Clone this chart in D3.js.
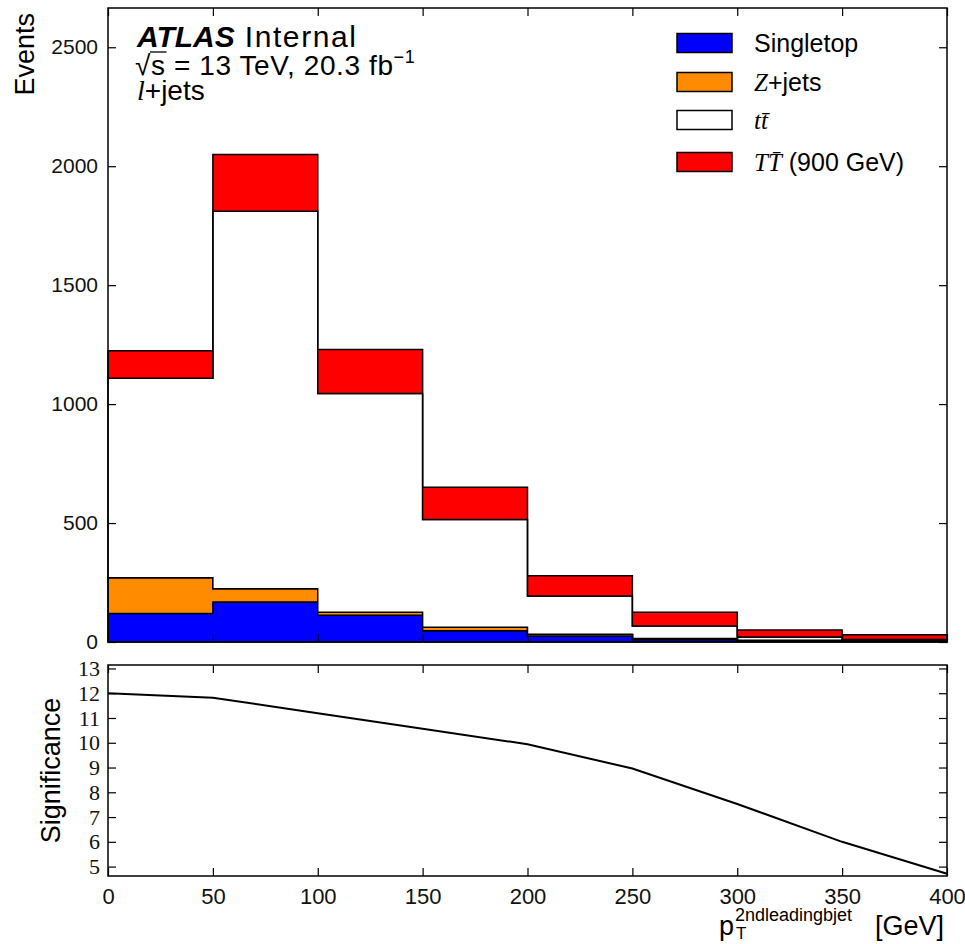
<!DOCTYPE html>
<html><head><meta charset="utf-8">
<script src="https://cdn.jsdelivr.net/npm/d3@7/dist/d3.min.js"></script>
<style>
html,body{margin:0;padding:0;background:#fff;}
svg{display:block;}
</style></head>
<body>
<svg id="c" width="965" height="944"></svg>
<script>
// ---- data ----
const binEdges   = [0, 50, 100, 150, 200, 250, 300, 350, 400];
const singletop  = [120, 168, 112, 47, 25, 10, 5, 3];
const zjets      = [150, 56, 13, 15, 8, 5, 2, 1];
const ttbar      = [839, 1587, 920, 453, 160, 52, 14, 7];
const TTbar900   = [115, 238, 185, 135, 86, 58, 29, 20];
const significance = [12.0, 11.82, 11.19, 10.57, 9.94, 8.96, 7.53, 6.0, 4.71];
const xTicks = [0, 50, 100, 150, 200, 250, 300, 350, 400];
const yTicksMain = [0, 500, 1000, 1500, 2000, 2500];
const yTicksSig = [5, 6, 7, 8, 9, 10, 11, 12, 13];

const sans = '"Liberation Sans", Arial, Helvetica, sans-serif';
const serif = '"Liberation Serif", "Times New Roman", serif';

const svg = d3.select('#c');
const L = 108, R = 947, T1 = 8, B1 = 642, T2 = 665, B2 = 876;

const x = d3.scaleLinear().domain([0, 400]).range([L, R]);
const y = d3.scaleLinear().domain([0, 2665]).range([B1, T1]);
const ys = d3.scaleLinear().domain([4.62, 13.14]).range([B2, T2]);

// ---- stacked histogram ----
const layers = [
  {name: 'Singletop', vals: singletop, color: '#0000ff'},
  {name: 'Zjets', vals: zjets, color: '#ff8c00'},
  {name: 'ttbar', vals: ttbar, color: '#ffffff'},
  {name: 'TT', vals: TTbar900, color: '#ff0000'}
];
let cum = singletop.map(() => 0);
layers.forEach(l => {
  const pts = [];
  l.vals.forEach((v, i) => {
    const lo = cum[i], hi = cum[i] + v;
    pts.push({x: binEdges[i], lo, hi});
    pts.push({x: binEdges[i + 1], lo, hi});
  });
  cum = cum.map((c, i) => c + l.vals[i]);
  l.pts = pts;
});
const area = d3.area().x(d => x(d.x)).y0(d => y(d.lo)).y1(d => y(d.hi));
const gH = svg.append('g');
layers.forEach(l => {
  gH.append('path').attr('d', area(l.pts) + 'Z')
    .attr('fill', l.color).attr('stroke', '#000').attr('stroke-width', 1.5)
    .attr('stroke-linejoin', 'miter');
});

// ---- significance line ----
const line = d3.line().x((d, i) => x(binEdges[i])).y(d => ys(d));
svg.append('path').attr('d', line(significance))
  .attr('fill', 'none').attr('stroke', '#000').attr('stroke-width', 2);

// ---- axes ----
function styleAxis(g, font, size) {
  g.select('.domain').remove();
  g.selectAll('.tick line').attr('stroke', '#000').attr('stroke-width', 1.2);
  g.selectAll('.tick text').attr('font-family', font).attr('font-size', size).attr('fill', '#111');
}
let g;
g = svg.append('g').attr('transform', `translate(${L},0)`)
  .call(d3.axisLeft(y).tickValues(yTicksMain).tickSize(-8).tickPadding(10).tickFormat(d3.format('d')));
styleAxis(g, sans, 21);
g = svg.append('g').attr('transform', `translate(${R},0)`)
  .call(d3.axisRight(y).tickValues(yTicksMain).tickSize(-8).tickFormat(''));
styleAxis(g, sans, 21);
g = svg.append('g').attr('transform', `translate(0,${B1})`)
  .call(d3.axisBottom(x).tickValues(xTicks).tickSize(-8).tickFormat(''));
styleAxis(g, sans, 21);
g = svg.append('g').attr('transform', `translate(0,${T1})`)
  .call(d3.axisTop(x).tickValues(xTicks).tickSize(-8).tickFormat(''));
styleAxis(g, sans, 21);
g = svg.append('g').attr('transform', `translate(${L},0)`)
  .call(d3.axisLeft(ys).tickValues(yTicksSig).tickSize(-8).tickPadding(8).tickFormat(d3.format('d')));
styleAxis(g, serif, 22);
g = svg.append('g').attr('transform', `translate(${R},0)`)
  .call(d3.axisRight(ys).tickValues(yTicksSig).tickSize(-8).tickFormat(''));
styleAxis(g, serif, 22);
g = svg.append('g').attr('transform', `translate(0,${B2})`)
  .call(d3.axisBottom(x).tickValues(xTicks).tickSize(-8).tickPadding(12).tickFormat(d3.format('d')));
styleAxis(g, sans, 22);
g = svg.append('g').attr('transform', `translate(0,${T2})`)
  .call(d3.axisTop(x).tickValues(xTicks).tickSize(-8).tickFormat(''));
styleAxis(g, sans, 22);

// frames
svg.append('rect').attr('x', L).attr('y', T1).attr('width', R - L).attr('height', B1 - T1)
  .attr('fill', 'none').attr('stroke', '#000').attr('stroke-width', 1.5);
svg.append('rect').attr('x', L).attr('y', T2).attr('width', R - L).attr('height', B2 - T2)
  .attr('fill', 'none').attr('stroke', '#000').attr('stroke-width', 1.5);

// ---- axis titles ----
svg.append('text').attr('transform', 'translate(34,13) rotate(-90)')
  .attr('text-anchor', 'end').attr('font-family', sans).attr('font-size', 27).text('Events');
svg.append('text').attr('transform', `translate(60,${(T2 + B2) / 2}) rotate(-90)`)
  .attr('text-anchor', 'middle').attr('font-family', sans).attr('font-size', 27).text('Significance');

// x label
const xl = svg.append('g').attr('font-family', sans);
xl.append('text').attr('x', 719).attr('y', 935).attr('font-size', 27).text('p');
xl.append('text').attr('x', 736).attr('y', 939).attr('font-size', 17).text('T');
xl.append('text').attr('x', 735).attr('y', 921).attr('font-size', 18).text('2ndleadingbjet');
xl.append('text').attr('x', 944).attr('y', 935).attr('text-anchor', 'end').attr('font-size', 27).text('[GeV]');

// ---- ATLAS label ----
const t1 = svg.append('text').attr('x', 137).attr('y', 47).attr('font-family', sans).attr('font-size', 30);
t1.append('tspan').attr('font-weight', 'bold').attr('font-style', 'italic').text('ATLAS');
t1.append('tspan').attr('letter-spacing', 1.6).text(' Internal');

const t2 = svg.append('text').attr('x', 135).attr('y', 75).attr('font-family', sans)
  .attr('font-size', 28).attr('letter-spacing', 0.6);
t2.append('tspan').text('√s = 13 TeV, 20.3 fb');
t2.append('tspan').attr('font-size', 18).attr('dy', -12).text('−1');
{
  const node = t2.node();
  const st = node.getStartPositionOfChar(1), en = node.getEndPositionOfChar(1);
  const ext = node.getExtentOfChar(0);
  svg.append('line').attr('x1', st.x - 1).attr('x2', en.x + 1)
    .attr('y1', ext.y + 2).attr('y2', ext.y + 2).attr('stroke', '#000').attr('stroke-width', 1.3);
}

const t3 = svg.append('text').attr('x', 137).attr('y', 100).attr('font-size', 28);
t3.append('tspan').attr('font-family', serif).attr('font-style', 'italic').text('l');
t3.append('tspan').attr('font-family', sans).text('+jets');

// ---- legend ----
const legend = [
  {color: '#0000ff', cy: 43, parts: [{t: 'Singletop', f: sans}]},
  {color: '#ff8c00', cy: 82, parts: [{t: 'Z', f: serif, i: true}, {t: '+jets', f: sans}]},
  {color: '#ffffff', cy: 120, parts: [{t: 't', f: serif, i: true}, {t: 't\u0304', f: serif, i: true}]},
  {color: '#ff0000', cy: 162, parts: [{t: 'T', f: serif, i: true}, {t: 'T\u0304', f: serif, i: true}, {t: ' (900 GeV)', f: sans}]}
];
const lg = svg.append('g');
legend.forEach(e => {
  lg.append('rect').attr('x', 677).attr('y', e.cy - 9.5).attr('width', 55).attr('height', 19)
    .attr('fill', e.color).attr('stroke', '#000').attr('stroke-width', 1.5);
  const tx = lg.append('text').attr('x', 754).attr('y', e.cy + 9).attr('font-size', 25);
  e.parts.forEach(p => {
    tx.append('tspan').attr('font-family', p.f).attr('font-style', p.i ? 'italic' : 'normal').text(p.t);
  });
});
</script>
</body></html>
